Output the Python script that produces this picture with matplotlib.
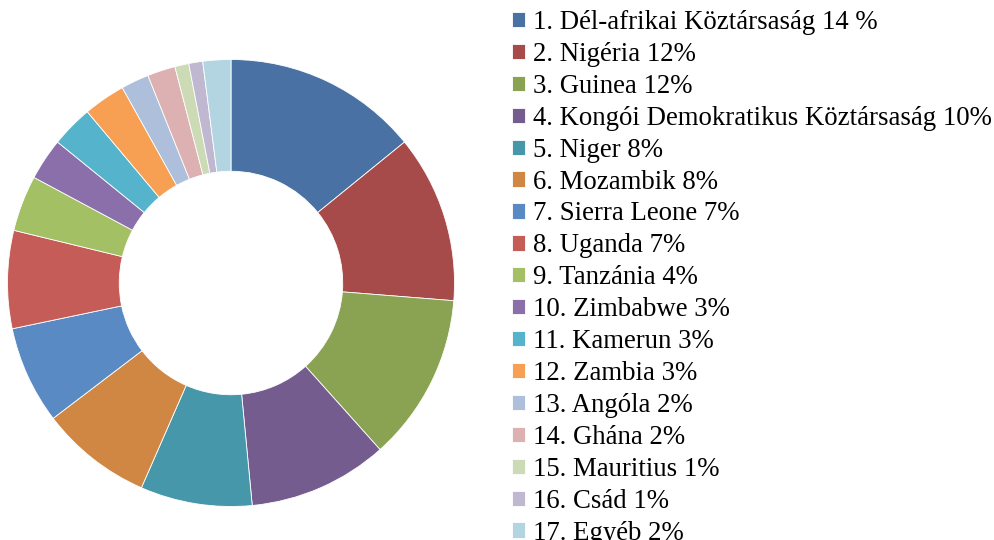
import matplotlib.pyplot as plt

# --- data ---
labels = [
    "1. Dél-afrikai Köztársaság 14 %",
    "2. Nigéria 12%",
    "3. Guinea 12%",
    "4. Kongói Demokratikus Köztársaság 10%",
    "5. Niger 8%",
    "6. Mozambik 8%",
    "7. Sierra Leone 7%",
    "8. Uganda 7%",
    "9. Tanzánia 4%",
    "10. Zimbabwe 3%",
    "11. Kamerun 3%",
    "12. Zambia 3%",
    "13. Angóla 2%",
    "14. Ghána 2%",
    "15. Mauritius 1%",
    "16. Csád 1%",
    "17. Egyéb 2%",
]
shares = [14, 12, 12, 10, 8, 8, 7, 7, 4, 3, 3, 3, 2, 2, 1, 1, 2]
colors = [
    "#4A71A3", "#A64B4A", "#8AA353", "#755C8E", "#4797AB", "#D08743",
    "#5A8AC4", "#C65C58", "#A4C064", "#8B6FAB", "#56B3CC", "#F7A054",
    "#ADBFDB", "#DDB1B1", "#CCDBB5", "#C0B7D0", "#B3D5E1",
]

plt.rcParams["font.family"] = ["Liberation Serif", "DejaVu Serif"]

W, H = 994, 540
fig = plt.figure(figsize=(W / 100, H / 100), dpi=100)

# donut: centre (231, 283) px, outer radius ~223 px
cx, cy, r = 231, 283, 223.5
ax = fig.add_axes([(cx - r) / W, (H - cy - r) / H, 2 * r / W, 2 * r / H])
wedges, _ = ax.pie(shares, colors=colors, startangle=90, counterclock=False,
                   radius=1, wedgeprops=dict(width=0.5, edgecolor="white", linewidth=0.6))
ax.set_xlim(-1, 1)
ax.set_ylim(-1, 1)
ax.set_aspect("equal")
ax.axis("off")

fig.legend(wedges, labels, loc="upper left", bbox_to_anchor=(512 / W, 1 - 10 / H),
           frameon=False, fontsize=19.3, handlelength=0.5, handleheight=0.5,
           handletextpad=0.3, labelspacing=0.258, borderaxespad=0, borderpad=0)

fig.savefig("out.png", dpi=100)
